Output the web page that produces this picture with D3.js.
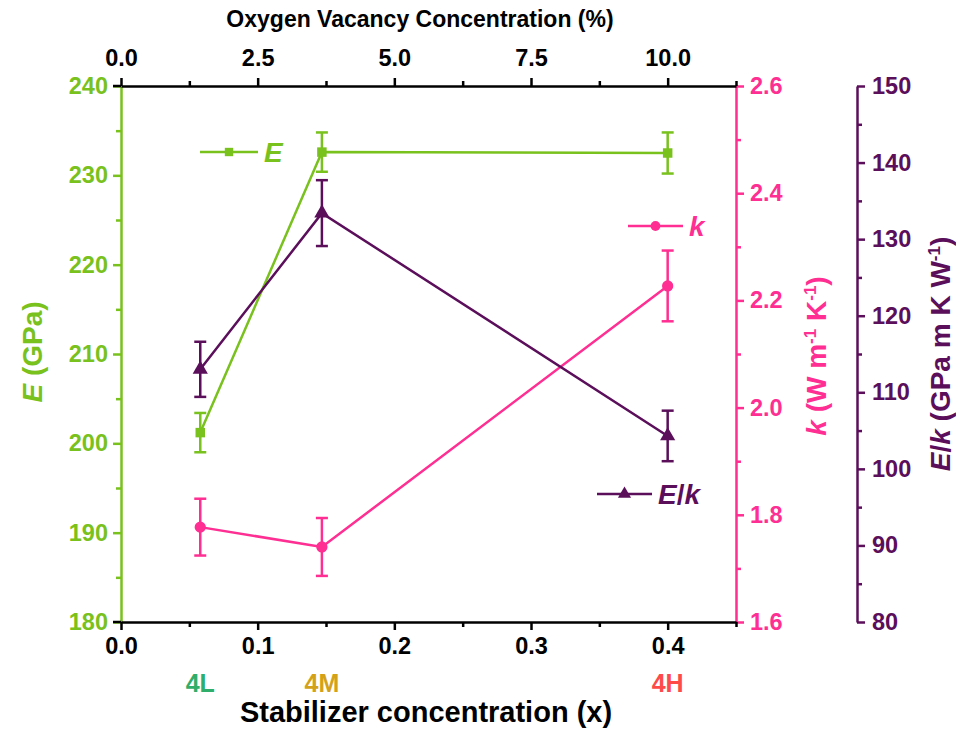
<!DOCTYPE html>
<html>
<head>
<meta charset="utf-8">
<script src="https://cdn.jsdelivr.net/npm/d3@7"></script>
<style>
  body { margin: 0; background: #fff; }
  svg text { font-family: "Liberation Sans", Arial, sans-serif; font-weight: bold; }
</style>
</head>
<body>
<svg id="chart" width="956" height="730"></svg>
<script>
// Samples and their stabilizer concentration
const samples = ["4L", "4M", "4H"];
const stabilizerX = [0.058, 0.147, 0.4];

// Young's modulus E (GPa)
const modulusE = [201.2, 232.6, 232.5];
const modulusErr = [2.2, 2.2, 2.3];

// Thermal conductivity k (W m-1 K-1)
const conductivityK = [1.777, 1.74, 2.227];
const conductivityErr = [0.053, 0.054, 0.066];

// Ratio E/k (GPa m K W-1)
const ratioEk = [113.0, 133.4, 104.3];
const ratioErr = [3.6, 4.3, 3.3];

// Axis ticks
const xTicks = [0.0, 0.1, 0.2, 0.3, 0.4];
const xMinor = [0.05, 0.15, 0.25, 0.35, 0.45];
const topTicks = [0.0, 2.5, 5.0, 7.5, 10.0];
const topMinor = [1.25, 3.75, 6.25, 8.75, 11.25];
const eTicks = [180, 190, 200, 210, 220, 230, 240];
const eMinor = [185, 195, 205, 215, 225, 235];
const kTicks = [1.6, 1.8, 2.0, 2.2, 2.4, 2.6];
const kMinor = [1.7, 1.9, 2.1, 2.3, 2.5];
const rTicks = [80, 90, 100, 110, 120, 130, 140, 150];
const rMinor = [85, 95, 105, 115, 125, 135, 145];

const sampleColors = ["#2fae6b", "#d4a21a", "#ff4a4a"];
const green = "#79c11d", pink = "#ff2e92", purple = "#5b0f5b";

const svg = d3.select("#chart");
const L = 121, R = 736, T = 86, B = 622, R2 = 857;
const TICK_FS = 23.5, TITLE_FS = 28;

const x = d3.scaleLinear().domain([0, 0.45]).range([L, R]);
const xTop = d3.scaleLinear().domain([0, 11.25]).range([L, R]);
const yE = d3.scaleLinear().domain([180, 240]).range([B, T]);
const yK = d3.scaleLinear().domain([1.6, 2.6]).range([B, T]);
const yR = d3.scaleLinear().domain([80, 150]).range([B, T]);

function styleAxis(g, color) {
  g.select(".domain").attr("stroke", color).attr("stroke-width", 2.5);
  g.selectAll(".tick line").attr("stroke", color).attr("stroke-width", 2.5);
  g.selectAll(".tick text").attr("fill", color).style("font-size", TICK_FS + "px");
}
function minor(g, axisGen, color) {
  g.call(axisGen);
  g.select(".domain").remove();
  g.selectAll(".tick line").attr("stroke", color).attr("stroke-width", 2.5);
}

// Left axis (E)
const gL = svg.append("g").attr("transform", `translate(${L},0)`)
  .call(d3.axisLeft(yE).tickValues(eTicks).tickSize(8).tickSizeOuter(0).tickPadding(5));
styleAxis(gL, green);
minor(svg.append("g").attr("transform", `translate(${L},0)`),
  d3.axisLeft(yE).tickValues(eMinor).tickFormat("").tickSize(5), green);

// Right axis (k)
const gK = svg.append("g").attr("transform", `translate(${R},0)`)
  .call(d3.axisRight(yK).tickValues(kTicks).tickFormat(d3.format(".1f")).tickSize(8).tickSizeOuter(0).tickPadding(6));
styleAxis(gK, pink);
minor(svg.append("g").attr("transform", `translate(${R},0)`),
  d3.axisRight(yK).tickValues(kMinor).tickFormat("").tickSize(5), pink);

// Offset right axis (E/k)
const gR = svg.append("g").attr("transform", `translate(${R2},0)`)
  .call(d3.axisRight(yR).tickValues(rTicks).tickSize(8).tickSizeOuter(0).tickPadding(7));
styleAxis(gR, purple);
minor(svg.append("g").attr("transform", `translate(${R2},0)`),
  d3.axisRight(yR).tickValues(rMinor).tickFormat("").tickSize(5), purple);

// Bottom axis
const gB = svg.append("g").attr("transform", `translate(0,${B})`)
  .call(d3.axisBottom(x).tickValues(xTicks).tickFormat(d3.format(".1f")).tickSize(8).tickSizeOuter(0).tickPadding(7));
styleAxis(gB, "#000");
minor(svg.append("g").attr("transform", `translate(0,${B})`),
  d3.axisBottom(x).tickValues(xMinor).tickFormat("").tickSize(5), "#000");

// Top axis
const gT = svg.append("g").attr("transform", `translate(0,${T})`)
  .call(d3.axisTop(xTop).tickValues(topTicks).tickFormat(d3.format(".1f")).tickSize(8).tickSizeOuter(0).tickPadding(12));
styleAxis(gT, "#000");
minor(svg.append("g").attr("transform", `translate(0,${T})`),
  d3.axisTop(xTop).tickValues(topMinor).tickFormat("").tickSize(5), "#000");

// Frame corners: the top and bottom lines reach past the left axis
[T, B].forEach(yy => svg.append("line")
  .attr("x1", L - 8).attr("x2", L).attr("y1", yy).attr("y2", yy)
  .attr("stroke", "#000").attr("stroke-width", 2.5));

// Series
const series = [
  { vals: modulusE, err: modulusErr, y: yE, color: green, marker: d3.symbolSquare, size: 90 },
  { vals: conductivityK, err: conductivityErr, y: yK, color: pink, marker: d3.symbolCircle, size: 100 },
  { vals: ratioEk, err: ratioErr, y: yR, color: purple, marker: d3.symbolTriangle, size: 100 }
];

series.forEach(s => {
  const pts = stabilizerX.map((xv, i) => ({ x: xv, v: s.vals[i], e: s.err[i] }));
  const g = svg.append("g");
  g.append("path").datum(pts)
    .attr("d", d3.line().x(d => x(d.x)).y(d => s.y(d.v)))
    .attr("fill", "none").attr("stroke", s.color).attr("stroke-width", 2.5);
  pts.forEach(d => {
    const cx = x(d.x), y1 = s.y(d.v + d.e), y2 = s.y(d.v - d.e);
    g.append("line").attr("x1", cx).attr("x2", cx).attr("y1", y1).attr("y2", y2)
      .attr("stroke", s.color).attr("stroke-width", 2.5);
    [y1, y2].forEach(yy => g.append("line")
      .attr("x1", cx - 6).attr("x2", cx + 6).attr("y1", yy).attr("y2", yy)
      .attr("stroke", s.color).attr("stroke-width", 2.5));
    g.append("path").attr("d", d3.symbol().type(s.marker).size(s.size)())
      .attr("transform", `translate(${cx},${s.y(d.v)})`).attr("fill", s.color);
  });
});

// Legend entries
function legend(x0, x1, yy, color, marker, size, label) {
  const g = svg.append("g");
  g.append("line").attr("x1", x0).attr("x2", x1).attr("y1", yy).attr("y2", yy)
    .attr("stroke", color).attr("stroke-width", 2.5);
  g.append("path").attr("d", d3.symbol().type(marker).size(size)())
    .attr("transform", `translate(${(x0 + x1) / 2},${yy})`).attr("fill", color);
  const t = g.append("text").attr("x", x1 + 6).attr("y", yy + 10)
    .attr("fill", color).style("font-size", TITLE_FS + "px");
  label(t);
}
legend(200, 258, 152, green, d3.symbolSquare, 70, t => t.append("tspan").style("font-style", "italic").text("E"));
legend(628, 683, 226, pink, d3.symbolCircle, 75, t => t.append("tspan").style("font-style", "italic").text("k"));
legend(597, 652, 494, purple, d3.symbolTriangle, 75, t => {
  t.append("tspan").style("font-style", "italic").text("E");
  t.append("tspan").text("/");
  t.append("tspan").style("font-style", "italic").text("k");
});

// Sample labels under the x axis
samples.forEach((s, i) => {
  svg.append("text").attr("x", x(stabilizerX[i])).attr("y", 692)
    .attr("text-anchor", "middle").attr("fill", sampleColors[i])
    .style("font-size", "25px").text(s);
});

// Axis titles
svg.append("text").attr("x", 426).attr("y", 722).attr("text-anchor", "middle")
  .style("font-size", "29px").attr("fill", "#000").text("Stabilizer concentration (x)");
svg.append("text").attr("x", 420).attr("y", 27).attr("text-anchor", "middle")
  .style("font-size", "23px").attr("fill", "#000").text("Oxygen Vacancy Concentration (%)");

const tE = svg.append("text").attr("transform", "translate(42,352) rotate(-90)")
  .attr("text-anchor", "middle").attr("fill", green).style("font-size", TITLE_FS + "px");
tE.append("tspan").style("font-style", "italic").text("E");
tE.append("tspan").text(" (GPa)");

const tK = svg.append("text").attr("transform", "translate(826,356) rotate(-90)")
  .attr("text-anchor", "middle").attr("fill", pink).style("font-size", TITLE_FS + "px");
tK.append("tspan").style("font-style", "italic").text("k");
tK.append("tspan").text(" (W m");
tK.append("tspan").attr("dy", -10).style("font-size", "17px").text("-1");
tK.append("tspan").attr("dy", 10).text(" K");
tK.append("tspan").attr("dy", -10).style("font-size", "17px").text("-1");
tK.append("tspan").attr("dy", 10).text(")");

const tR = svg.append("text").attr("transform", "translate(950,354) rotate(-90)")
  .attr("text-anchor", "middle").attr("fill", purple).style("font-size", TITLE_FS + "px");
tR.append("tspan").style("font-style", "italic").text("E");
tR.append("tspan").text("/");
tR.append("tspan").style("font-style", "italic").text("k");
tR.append("tspan").text(" (GPa m K W");
tR.append("tspan").attr("dy", -10).style("font-size", "17px").text("-1");
tR.append("tspan").attr("dy", 10).text(")");
</script>
</body>
</html>
